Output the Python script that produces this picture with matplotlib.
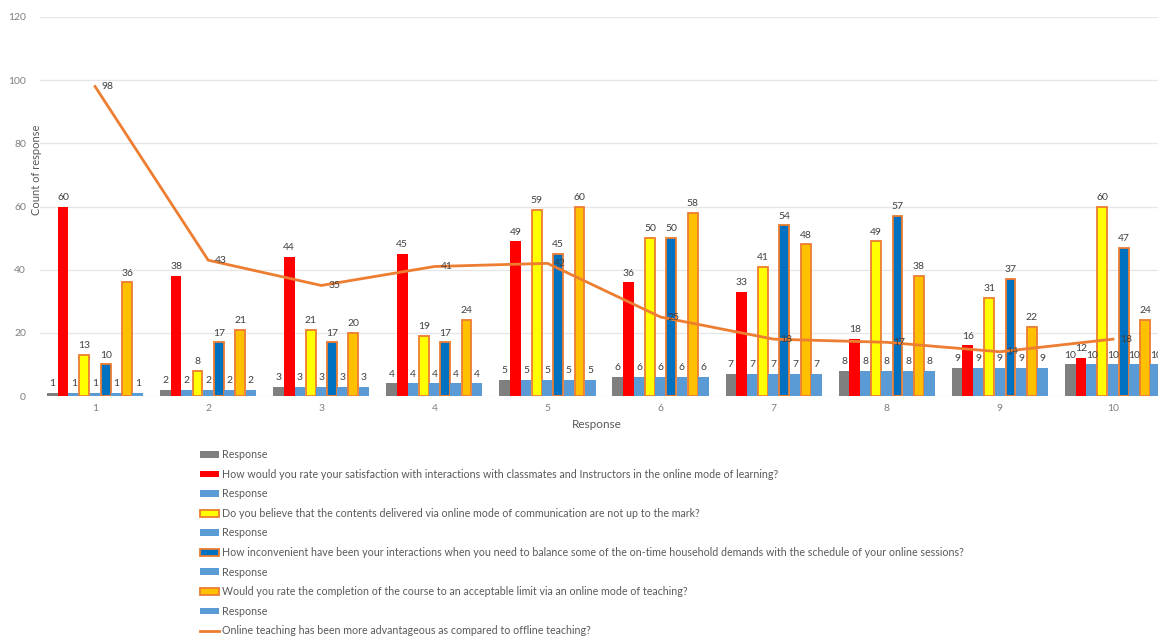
import matplotlib
matplotlib.use('Agg')
import matplotlib.pyplot as plt
from matplotlib.patches import Patch
from matplotlib.lines import Line2D
import numpy as np

plt.rcParams['font.family'] = ['Lato', 'DejaVu Sans']

# Data
groups = [1, 2, 3, 4, 5, 6, 7, 8, 9, 10]
response = [1, 2, 3, 4, 5, 6, 7, 8, 9, 10]
satisfaction = [60, 38, 44, 45, 49, 36, 33, 18, 16, 12]
contents = [13, 8, 21, 19, 59, 50, 41, 49, 31, 60]
inconvenient = [10, 17, 17, 17, 45, 50, 54, 57, 37, 47]
completion = [36, 21, 20, 24, 60, 58, 48, 38, 22, 24]
advantageous = [98, 43, 35, 41, 42, 25, 18, 17, 14, 18]

q_satisfaction = "How would you rate your satisfaction with interactions with classmates and Instructors in the online mode of learning?"
q_contents = "Do you believe that the contents delivered via online mode of communication are not up to the mark?"
q_inconvenient = "How inconvenient have been your interactions when you need to balance some of the on-time household demands with the schedule of your online sessions?"
q_completion = "Would you rate the completion of the course to an acceptable limit via an online mode of teaching?"
q_advantageous = "Online teaching has been more advantageous as compared to offline teaching?"

GREY = '#7f7f7f'
LBLUE = '#5b9bd5'
RED = '#ff0000'
YELLOW = '#ffff00'
DBLUE = '#0070c0'
ORANGE = '#ffc000'
EDGE = '#ed7d31'
TXT = '#595959'

W, H = 1158, 642
fig = plt.figure(figsize=(W / 100, H / 100), dpi=100)
ax = fig.add_axes([40 / W, (H - 396) / H, (1158 - 40) / W, (396 - 17) / H])

# bar order inside each group
series = [
    (response, GREY, None),
    (satisfaction, RED, None),
    (response, LBLUE, None),
    (contents, YELLOW, EDGE),
    (response, LBLUE, None),
    (inconvenient, DBLUE, EDGE),
    (response, LBLUE, None),
    (completion, ORANGE, EDGE),
    (response, LBLUE, None),
]

x = np.array(groups, dtype=float)
bw = 0.0945
n = len(series)
for k, (vals, col, edge) in enumerate(series):
    pos = x + (k - (n - 1) / 2) * bw
    if edge:
        ax.bar(pos, vals, width=bw * 0.92, color=col, edgecolor=edge,
               linewidth=1.3, zorder=3)
    else:
        ax.bar(pos, vals, width=bw, color=col, linewidth=0, zorder=3)
    for p, v in zip(pos, vals):
        ax.text(p, v + 1.5, str(v), ha='center', va='bottom', fontsize=7.5,
                color='#404040', zorder=5)

ax.plot(x, advantageous, color=EDGE, lw=2, zorder=4)
for xi, v in zip(x, advantageous):
    ax.text(xi + 0.06, v, str(v), ha='left', va='center', fontsize=7.5,
            color='#404040', zorder=5)

ax.set_xlim(0.513, 10.398)
ax.set_ylim(0, 120)
ax.set_yticks(range(0, 121, 20))
ax.set_xticks(x)
ax.set_xticklabels([str(g) for g in groups])
ax.tick_params(length=0, labelsize=7.5, colors='#7f7f7f')
ax.tick_params(axis='y', pad=10)
ax.tick_params(axis='x', pad=6)
ax.grid(axis='y', color='#e6e6e6', lw=0.9, zorder=0)
ax.set_axisbelow(True)
for s in ax.spines.values():
    s.set_visible(False)

fig.text(37 / W, 1 - 170 / H, 'Count of response', rotation=90, ha='center',
         va='center', fontsize=8, color=TXT)
fig.text(597 / W, 1 - 424 / H, 'Response', ha='center', va='center',
         fontsize=8.5, color=TXT)

handles = [
    Patch(facecolor=GREY, label='Response'),
    Patch(facecolor=RED, label=q_satisfaction),
    Patch(facecolor=LBLUE, label='Response'),
    Patch(facecolor=YELLOW, edgecolor=EDGE, lw=1.3, label=q_contents),
    Patch(facecolor=LBLUE, label='Response'),
    Patch(facecolor=DBLUE, edgecolor=EDGE, lw=1.3, label=q_inconvenient),
    Patch(facecolor=LBLUE, label='Response'),
    Patch(facecolor=ORANGE, edgecolor=EDGE, lw=1.3, label=q_completion),
    Patch(facecolor=LBLUE, label='Response'),
    Line2D([0], [0], color=EDGE, lw=2, label=q_advantageous),
]
leg = fig.legend(handles=handles, loc='upper left',
                 bbox_to_anchor=(196 / W, 1 - 445 / H), frameon=False,
                 fontsize=7.7, labelspacing=0.8, handlelength=1.75,
                 handleheight=0.6, handletextpad=0.3, borderaxespad=0)
for t in leg.get_texts():
    t.set_color(TXT)

fig.savefig('out.png', dpi=100, facecolor='white')
